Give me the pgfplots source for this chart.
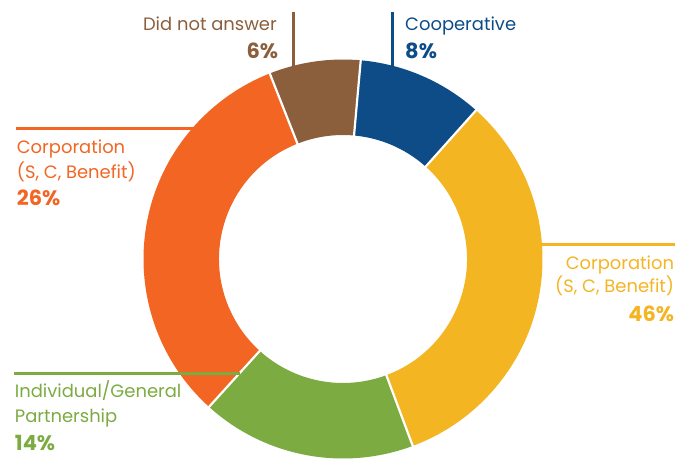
\documentclass[border=0pt]{standalone}
\usepackage{fontspec}
\setmainfont{Poppins}
\usepackage{pgfplots}
\pgfplotsset{compat=1.18}
\definecolor{cOrange}{HTML}{F26522}
\definecolor{cBrown}{HTML}{8B5E3C}
\definecolor{cBlue}{HTML}{0D4C87}
\definecolor{cYellow}{HTML}{F4B523}
\definecolor{cGreen}{HTML}{7BAB41}
% slice shares of the drawn ring (percent of circle, clockwise from the start angle)
\def\vBlue{10.2}\def\vYellow{32.7}\def\vGreen{17.4}\def\vOrange{32.3}\def\vBrown{7.4}
\def\aStart{84.9}
\pgfmathsetmacro\aA{\aStart}
\pgfmathsetmacro\aB{\aA-3.6*\vBlue}
\pgfmathsetmacro\aC{\aB-3.6*\vYellow}
\pgfmathsetmacro\aD{\aC-3.6*\vGreen}
\pgfmathsetmacro\aE{\aD-3.6*\vOrange}
\pgfmathsetmacro\aF{\aE-3.6*\vBrown}
\def\cx{343}\def\cy{200}\def\Ro{199.5}\def\Ri{124}
\newcommand\slice[3]{%
  \fill[#1] (axis cs:{\cx+\Ro*cos(#2)},{\cy+\Ro*sin(#2)})
    arc[start angle=#2, end angle=#3, radius=\Ro bp]
    -- (axis cs:{\cx+\Ri*cos(#3)},{\cy+\Ri*sin(#3)})
    arc[start angle=#3, end angle=#2, radius=\Ri bp] -- cycle;}
\newcommand\sep[1]{%
  \draw[white, line width=2.2bp] (axis cs:{\cx+(\Ri-2)*cos(#1)},{\cy+(\Ri-2)*sin(#1)})
    -- (axis cs:{\cx+(\Ro+2)*cos(#1)},{\cy+(\Ro+2)*sin(#1)});}
\newcommand\lab{\fontsize{18}{21}\selectfont}
\newcommand\pct{\fontsize{21}{24}\selectfont\bfseries}
\begin{document}
\begin{tikzpicture}
\begin{axis}[
  x=1bp, y=1bp, xmin=0, xmax=690, ymin=0, ymax=459,
  hide axis, clip=false, scale only axis]
\path (axis cs:0,0) rectangle (axis cs:690,459);
% leader lines under the ring
\draw[cBrown, line width=3bp] (axis cs:293.3,447.3) -- (axis cs:293.3,390);
\draw[cBlue, line width=3bp] (axis cs:392.3,447.3) -- (axis cs:392.3,390);
\draw[cOrange, line width=3bp] (axis cs:16,330.7) -- (axis cs:196,330.7);
\draw[cYellow, line width=3bp] (axis cs:538,215) -- (axis cs:675,215);
% ring
\slice{cBlue}{\aA}{\aB}
\slice{cYellow}{\aB}{\aC}
\slice{cGreen}{\aC}{\aD}
\slice{cOrange}{\aD}{\aE}
\slice{cBrown}{\aE}{\aF}
\sep{\aA}\sep{\aB}\sep{\aC}\sep{\aD}\sep{\aE}
\draw[cGreen, line width=3bp] (axis cs:14,85.7) -- (axis cs:239.5,85.7);
% labels
\node[anchor=base east, text=cBrown, inner sep=0pt] at (axis cs:277,428.3) {\lab Did not answer};
\node[anchor=base east, text=cBrown, inner sep=0pt] at (axis cs:278.3,400.7) {\pct 6\%};
\node[anchor=base west, text=cBlue, inner sep=0pt] at (axis cs:405,428.3) {\lab Cooperative};
\node[anchor=base west, text=cBlue, inner sep=0pt] at (axis cs:405,400.7) {\pct 8\%};
\node[anchor=base west, text=cOrange, inner sep=0pt] at (axis cs:16.7,305) {\lab Corporation};
\node[anchor=base west, text=cOrange, inner sep=0pt] at (axis cs:16.7,280.7) {\lab (S, C, Benefit)};
\node[anchor=base west, text=cOrange, inner sep=0pt] at (axis cs:16.7,253) {\pct 26\%};
\node[anchor=base east, text=cYellow, inner sep=0pt] at (axis cs:674.3,189.7) {\lab Corporation};
\node[anchor=base east, text=cYellow, inner sep=0pt] at (axis cs:674.3,166.3) {\lab (S, C, Benefit)};
\node[anchor=base east, text=cYellow, inner sep=0pt] at (axis cs:674.3,137.3) {\pct 46\%};
\node[anchor=base west, text=cGreen, inner sep=0pt] at (axis cs:14.7,61.3) {\lab Individual/General};
\node[anchor=base west, text=cGreen, inner sep=0pt] at (axis cs:14.7,36.3) {\lab Partnership};
\node[anchor=base west, text=cGreen, inner sep=0pt] at (axis cs:14.7,8.3) {\pct 14\%};
\end{axis}
\end{tikzpicture}
\end{document}
